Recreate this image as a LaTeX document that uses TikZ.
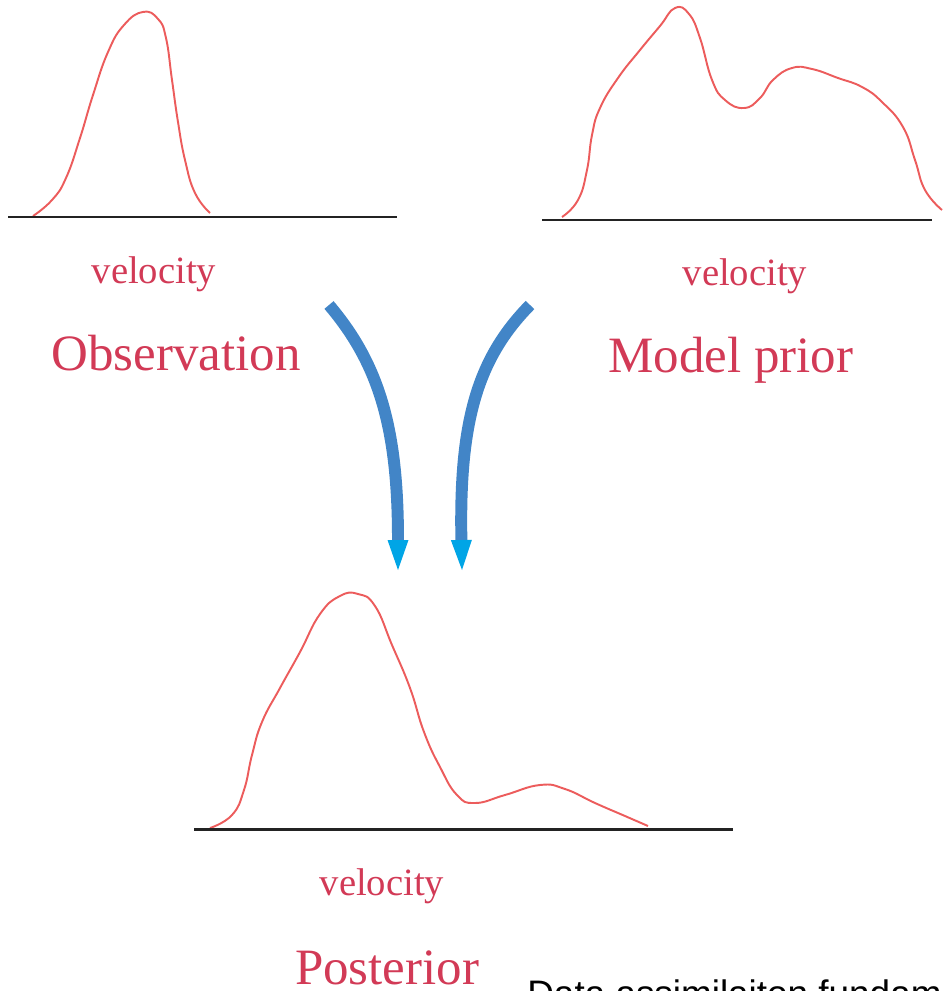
\documentclass[tikz,border=0pt]{standalone}
\usepackage{fontspec}
\setmainfont{Liberation Serif}
\newfontfamily\captionfont{Liberation Sans}
\usepackage{xcolor}
\usetikzlibrary{arrows.meta,positioning}
\definecolor{labelred}{RGB}{210,58,86}
\definecolor{pdfred}{RGB}{236,92,92}
\definecolor{shaftblue}{RGB}{66,133,199}
\definecolor{tipblue}{RGB}{0,165,230}
\definecolor{axisgray}{RGB}{35,35,35}
\tikzset{
  axis/.style={
    draw=axisgray,
    line width=1.7pt
  },
  density/.style={
    draw=pdfred,
    line width=1.1pt
  },
  varname/.style={
    anchor=base,
    inner sep=0pt,
    text=labelred,
    font=\fontsize{22}{26}\selectfont
  },
  title/.style={
    anchor=base,
    inner sep=0pt,
    text=labelred,
    font=\fontsize{29}{34}\selectfont
  },
  flow/.style={line width=6.8pt, draw=shaftblue,
    -{Triangle[width=0.42cm,length=0.6cm,line width=0pt,color=tipblue]}}
}

\begin{document}
\begin{tikzpicture}[x=0.02cm, y=-0.02cm]
  \useasboundingbox (0,0) rectangle (943,991);

  % observation
  \draw[density] plot[smooth, tension=0.8] coordinates {(33,216) (52,200) (66,178)
    (80,138) (93,95) (108,52) (124,25) (143,12) (158,19) (166,38) (172,80) (178,122)
    (185,160) (195,193) (210,213)};
  \draw[axis] (8,217) -- (397,217);
  \node[varname] (obsvel) at (154,283) {velocity};
  \node[title] (obs) at (176,370) {Observation};

  % model prior
  \draw[density] plot[smooth, tension=0.8] coordinates {(562,217) (578,200)
    (587,170) (592,135) (600,108) (618,78) (640,50) (660,26) (675,8) (689,14)
    (700,38) (712,80) (725,100) (744,108) (760,98) (773,80) (792,68) (812,69)
    (838,78) (862,87) (882,102) (903,127) (915,160) (925,190) (942,210)};
  \draw[axis] (542,220) -- (932,220);
  \node[varname] (priorvel) at (745,285) {velocity};
  \node[title] (prior) at (731,372) {Model prior};

  % posterior
  \draw[density] plot[smooth, tension=0.8] coordinates {(210,828) (232,815)
    (244,790) (252,755) (262,722) (280,688) (300,652) (320,614) (340,596) (358,594)
    (375,606) (392,645) (410,688) (424,732) (440,767) (457,795) (475,803) (505,795)
    (540,785) (565,789) (595,803) (625,816) (648,826)};
  \draw[axis] (194,829) -- (733,829);
  \node[varname] (postvel) at (382,895) {velocity};
  \node[title] (post) at (387,984) {Posterior};

  \node[anchor=base west, inner sep=0pt, font=\captionfont\fontsize{21}{25}\selectfont]
    (caption) at (527,1006) {Data assimilaiton fundam};

  % arrows
  \coordinate (obsarrow) at (329,305);
  \coordinate (priorarrow) at (530,305);
  \coordinate (postleft) at (398,570);
  \coordinate (postright) at (462,570);
  \draw[flow] (obsarrow) .. controls (380,365) and (398,430) .. (postleft);
  \draw[flow] (priorarrow) .. controls (478,358) and (459,420) .. (postright);
\end{tikzpicture}
\end{document}
